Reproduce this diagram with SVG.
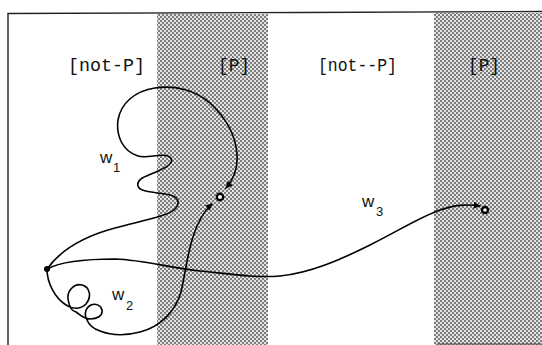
<svg xmlns="http://www.w3.org/2000/svg" width="542" height="345" viewBox="0 0 542 345">
<defs>
<pattern id="dots" width="4" height="4" patternUnits="userSpaceOnUse">
<rect width="4" height="4" fill="#e4e4e4"/>
<rect x="0" y="0" width="2" height="2" fill="#7c7c7c"/>
<rect x="2" y="2" width="2" height="2" fill="#7c7c7c"/>
</pattern>
<marker id="arr" viewBox="0 0 10 10" refX="9" refY="5" markerWidth="7" markerHeight="7" markerUnits="userSpaceOnUse" orient="auto">
<path d="M0,0 L10,5 L0,10 Z" fill="#000"/>
</marker>
<style>
.region{font-family:"Liberation Mono","Courier New",monospace;font-size:18px;fill:#111}
.w{font-family:"Liberation Sans",Arial,sans-serif;font-size:17px;fill:#111}
.sub{font-family:"Liberation Sans",Arial,sans-serif;font-size:13px;fill:#111}
.path{fill:none;stroke:#000;stroke-width:1.6;stroke-linecap:round;stroke-linejoin:round}
.frame{fill:none;stroke:#222;stroke-width:1.4}
</style>
</defs>
<rect width="542" height="345" fill="#fff"/>
<g id="strips">
<rect x="157" y="14" width="111" height="331" fill="url(#dots)"/>
<rect x="434" y="13" width="108" height="332" fill="url(#dots)"/>
</g>
<g id="frame">
<path class="frame" d="M8,345 L8,13.5 L300,12.5 L542,11.5"/>
<path d="M437,344 L542,344" stroke="#444" stroke-width="1.2"/>
</g>
<g id="labels">
<text class="region" x="68" y="71" textLength="77" lengthAdjust="spacingAndGlyphs">[not-P]</text>
<text class="region" x="218" y="71" textLength="32" lengthAdjust="spacingAndGlyphs">[P]</text>
<text class="region" x="318" y="71" textLength="79" lengthAdjust="spacingAndGlyphs">[not--P]</text>
<text class="region" x="468" y="71" textLength="32" lengthAdjust="spacingAndGlyphs">[P]</text>
</g>
<g id="connectors">
<path id="w1-path" class="path" marker-end="url(#arr)" d="M47,269 C62,248 85,236 115,228 C145,220 168,216 175,209 C181,203 178,197 170,195 C158,192 140,193 138,186 C136,178 148,176 158,171 C170,166 176,160 168,156 C160,153 147,159 138,156 C122,151 116,135 118,120 C121,103 135,91 155,88 C175,85 195,90 210,103 C225,117 236,135 237,155 C238,170 233,180 226,188"/>
<path id="w2-path" class="path" marker-end="url(#arr)" d="M47,269 C47,283 55,298 66,305 C72,309 80,310 86,304 C92,297 90,287 82,285 C74,283 67,291 68,299 C69,306 71,311 76,312 C80,315 84,319 90,319 C97,319 103,316 102,310 C101,305 95,303 91,305 C85,308 84,315 87,320 C89,325 94,329 100,331 C110,335 125,336 140,332 C160,327 175,312 181,292 C185,275 187,255 193,237 C197,224 203,212 212,204"/>
<path id="w3-path" class="path" marker-end="url(#arr)" d="M47,269 C60,262 85,259 115,259 C145,260 170,268 200,271 C230,274 255,278 280,276 C310,273 340,260 370,245 C400,230 420,217 440,210 C455,205 465,204 480,206"/>
</g>
<g id="start">
<circle cx="47" cy="269" r="3" fill="#000"/>
</g>
<g id="end-P1">
<circle cx="220" cy="197" r="3.2" fill="#fff" stroke="#000" stroke-width="2.4"/>
</g>
<g id="end-P2">
<circle cx="485" cy="210" r="3" fill="#fff" stroke="#000" stroke-width="2.4"/>
</g>
<g id="w1">
<text class="w" x="100" y="163">w</text><text class="sub" x="113" y="172">1</text>
</g>
<g id="w2">
<text class="w" x="112" y="300">w</text><text class="sub" x="126" y="310">2</text>
</g>
<g id="w3">
<text class="w" x="362" y="207">w</text><text class="sub" x="376" y="216">3</text>
</g>
</svg>
